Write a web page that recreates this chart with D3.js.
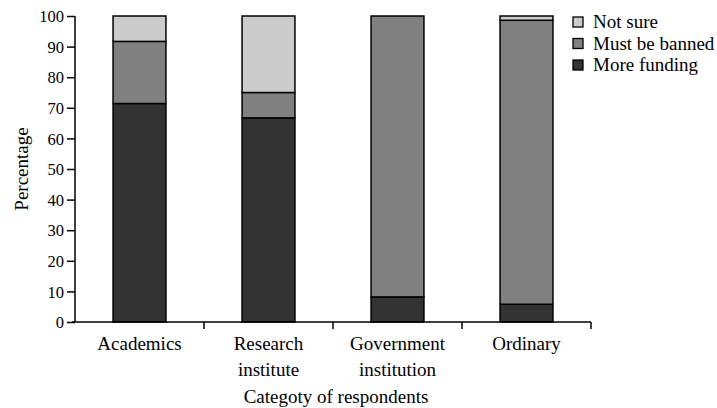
<!DOCTYPE html>
<html><head><meta charset="utf-8"><script src="https://cdn.jsdelivr.net/npm/d3@7"></script></head><body style="margin:0">
<svg id="c" width="717" height="408" font-family="Liberation Serif" style="font-family:'Liberation Serif',serif"></svg>
<script>
const categories = [["Academics"],["Research","institute"],["Government","institution"],["Ordinary"]];
const seriesNames = ["More funding","Must be banned","Not sure"];
const moreFunding = [71.4, 66.7, 8.2, 5.8];
const mustBeBanned = [20.3, 8.3, 91.8, 92.8];
const notSure = [8.3, 25.0, 0, 1.4];
const yTicks = [0,10,20,30,40,50,60,70,80,90,100];
const colors = ["#333333","#808080","#cccccc"];

function serif(sel, size) {
  sel.attr("font-family", "Liberation Serif")
     .attr("style", "font-family:'Liberation Serif',serif;font-size:" + size + "px")
     .attr("font-size", size).attr("fill", "#000");
  return sel;
}

const svg = d3.select("#c");
const x0 = 75, x1 = 591, yTop = 16, yBot = 322;
const keys = categories.map(c => c.join(" "));
const x = d3.scaleBand().domain(keys).range([x0, x1]).paddingInner(0.59).paddingOuter(0.295);
const y = d3.scaleLinear().domain([0,100]).range([yBot, yTop]);

const table = keys.map((k,i) => ({cat:k, "More funding":moreFunding[i], "Must be banned":mustBeBanned[i], "Not sure":notSure[i]}));
const stack = d3.stack().keys(seriesNames)(table);

const g = svg.append("g");
stack.forEach((s, si) => {
  g.selectAll(null).data(s.filter(d => d[1]-d[0] > 0)).enter().append("rect")
    .attr("x", d => x(d.data.cat)).attr("width", x.bandwidth())
    .attr("y", d => y(d[1])).attr("height", d => y(d[0]) - y(d[1]))
    .attr("fill", colors[si]).attr("stroke", "#000").attr("stroke-width", 1.5);
});

// y axis
const ya = svg.append("g").attr("transform", `translate(${x0},0)`)
  .call(d3.axisLeft(y).tickValues(yTicks).tickSize(8).tickPadding(3));
ya.attr("font-family", "Liberation Serif").attr("font-size", 16.5);
ya.select(".domain").attr("stroke","#000").attr("stroke-width",1.5).attr("d", `M0,${yTop}V${yBot}`);
ya.selectAll(".tick line").attr("stroke","#000").attr("stroke-width",1.5);
serif(ya.selectAll(".tick text"), 16.5).attr("dy","0.34em");

// x axis
const boundaries = d3.range(keys.length+1).map(i => x0 + i*(x1-x0)/keys.length);
const xa = svg.append("g");
xa.append("line").attr("x1", x0-3).attr("x2", x1).attr("y1", yBot).attr("y2", yBot).attr("stroke","#000").attr("stroke-width",1.5);
xa.selectAll(".xt").data(boundaries.slice(1)).enter().append("line")
  .attr("x1", d=>d).attr("x2", d=>d).attr("y1", yBot).attr("y2", yBot+7).attr("stroke","#000").attr("stroke-width",1.5);
categories.forEach((c,i) => {
  const cx = x(keys[i]) + x.bandwidth()/2;
  c.forEach((line,j) => serif(xa.append("text"), 19).attr("x", cx).attr("y", 350 + j*26)
    .attr("text-anchor","middle").text(line));
});

serif(svg.append("text"), 19).attr("x", 336).attr("y", 403).attr("text-anchor","middle").text("Categoty of respondents");
serif(svg.append("text"), 19).attr("transform","translate(28,169) rotate(-90)").attr("text-anchor","middle").text("Percentage");

// legend
const legendItems = ["Not sure","Must be banned","More funding"];
const legendColors = [colors[2], colors[1], colors[0]];
const lg = svg.append("g").attr("transform","translate(573,17)");
legendItems.forEach((name,i) => {
  lg.append("rect").attr("x",0).attr("y", i*21.5).attr("width",10).attr("height",10)
    .attr("fill", legendColors[i]).attr("stroke","#000").attr("stroke-width",1.3);
  serif(lg.append("text"), 19).attr("x",20).attr("y", i*21.5+11).text(name);
});
</script></body></html>
